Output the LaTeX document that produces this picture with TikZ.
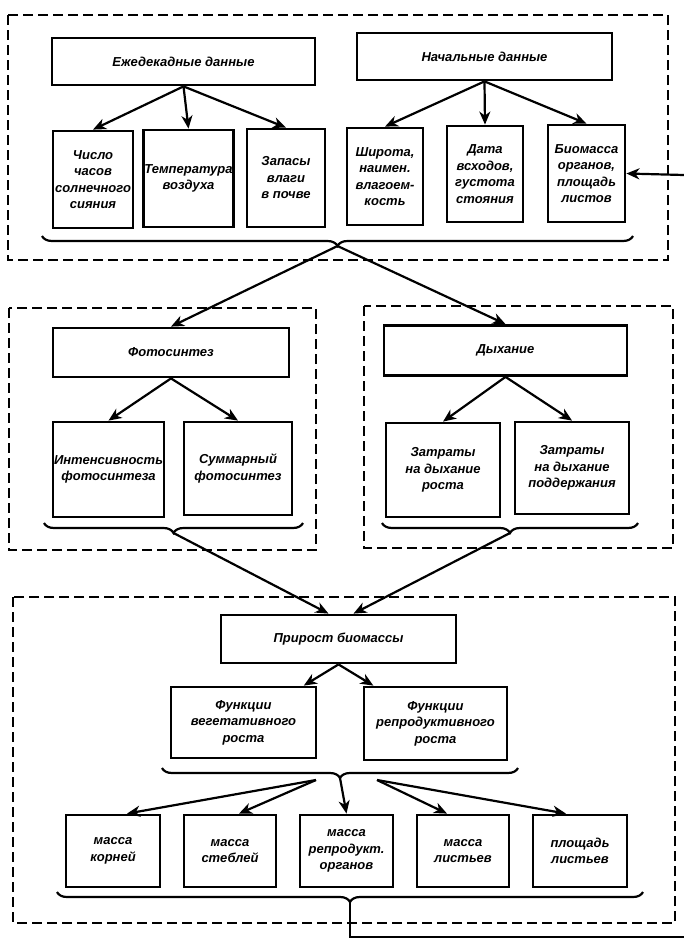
\documentclass[tikz,border=0pt]{standalone}
\usepackage{fontspec}
\setmainfont{Liberation Sans}
\usetikzlibrary{arrows.meta,decorations.pathreplacing}

\tikzset{
	blk/.style={draw, line width=2.8pt, align=center, inner sep=1pt,
		font=\bfseries\itshape\fontsize{13}{16.5}\selectfont},
	grp/.style={draw, line width=2pt, dash pattern=on 10pt off 5pt},
	arr/.style={line width=2.2pt, -{Stealth[length=13pt,width=11pt,inset=4pt]}},
	lnk/.style={line width=2.2pt},
	brc/.style={line width=2.2pt, decorate, decoration={brace, mirror, amplitude=10pt}}
}

\begin{document}
\begin{tikzpicture}[x=1pt,y=-1pt]
	\useasboundingbox (0,0) rectangle (684,940);

	\draw[grp] (8,15) rectangle (668,260);
	\draw[grp] (9,308) rectangle (316,550);
	\draw[grp] (364,306) rectangle (673,548);
	\draw[grp] (13,597) rectangle (675,923);

	\node[blk, minimum width=263pt, minimum height=47pt] (ezhe) at (183.5,61.5) {Ежедекадные данные};
	\node[blk, minimum width=255pt, minimum height=47pt] (nach) at (484.5,56.5) {Начальные данные};
	\node[blk, minimum width=80pt, minimum height=97pt] (chislo) at (93,179.5) {Число\\часов\\солнечного\\сияния};
	\node[blk, minimum width=77pt, minimum height=97pt] (temp) at (188.5,178.5) {Температура\\воздуха};
	\node[blk, minimum width=78pt, minimum height=98pt] (zapas) at (286,178) {Запасы\\влаги\\в почве};
	\node[blk, minimum width=76pt, minimum height=97pt] (shir) at (385,176.5) {Широта,\\наимен.\\влагоем-\\кость};
	\node[blk, minimum width=76pt, minimum height=96pt] (data) at (485,174) {Дата\\всходов,\\густота\\стояния};
	\node[blk, minimum width=77pt, minimum height=97pt] (biom) at (586.5,173.5) {Биомасса\\органов,\\площадь\\листов};

	\draw[arr] (ezhe.south) -- (chislo.north);
	\draw[arr] (ezhe.south) -- (temp.north);
	\draw[arr] (ezhe.south) -- (zapas.north);
	\draw[arr] (nach.south) -- (shir.north);
	\draw[arr] (nach.south) -- (data.north);
	\draw[arr] (nach.south) -- (biom.north);
	\coordinate (inB) at (684,175);
	\draw[arr] (inB) -- (biom.east);

	\draw[brc] (42,236) -- (633,236) coordinate[midway, yshift=-10pt] (topT);

	\node[blk, minimum width=236pt, minimum height=49pt] (foto) at (171,352.5) {Фотосинтез};
	\node[blk, minimum width=243pt, minimum height=50pt] (dykh) at (505.5,350.5) {Дыхание};
	\node[blk, minimum width=111pt, minimum height=95pt] (inten) at (108.5,469.5) {Интенсивность\\фотосинтеза};
	\node[blk, minimum width=108pt, minimum height=93pt] (summ) at (238,468.5) {Суммарный\\фотосинтез};
	\node[blk, minimum width=114pt, minimum height=94pt] (zatrR) at (443,470) {Затраты\\на дыхание\\роста};
	\node[blk, minimum width=114pt, minimum height=92pt] (zatrP) at (572,468) {Затраты\\на дыхание\\поддержания};

	\draw[arr] (topT) -- (foto.north);
	\draw[arr] (topT) -- (dykh.north);
	\draw[arr] (foto.south) -- (inten.north);
	\draw[arr] (foto.south) -- (summ.north);
	\draw[arr] (dykh.south) -- (zatrR.north);
	\draw[arr] (dykh.south) -- (zatrP.north);

	\draw[brc] (44,523) -- (303,523) coordinate[midway, yshift=-10pt] (fotoT);
	\draw[brc] (382,523) -- (638,523) coordinate[midway, yshift=-10pt] (dykhT);

	\node[blk, minimum width=235pt, minimum height=48pt] (prir) at (338.5,639) {Прирост биомассы};
	\node[blk, minimum width=145pt, minimum height=71pt] (veg) at (243.5,722.5) {Функции\\вегетативного\\роста};
	\node[blk, minimum width=143pt, minimum height=73pt] (rep) at (435.5,723.5) {Функции\\репродуктивного\\роста};

	\draw[arr] (fotoT) -- ([xshift=-10pt]prir.north);
	\draw[arr] (dykhT) -- ([xshift=15pt]prir.north);
	\draw[arr] (prir.south) -- (veg);
	\draw[arr] (prir.south) -- (rep);

	\draw[brc] (162,768) -- (518,768) coordinate[midway, yshift=-10pt] (funT);
	\coordinate (funL) at (316,780);
	\coordinate (funR) at (377,780);

	\node[blk, minimum width=94pt, minimum height=72pt] (mKor) at (113,851) {масса\\корней};
	\node[blk, minimum width=92pt, minimum height=72pt] (mSteb) at (230,851) {масса\\стеблей};
	\node[blk, minimum width=93pt, minimum height=72pt] (mRep) at (346.5,851) {масса\\репродукт.\\органов};
	\node[blk, minimum width=92pt, minimum height=72pt] (mList) at (463,851) {масса\\листьев};
	\node[blk, minimum width=94pt, minimum height=72pt] (pList) at (580,851) {площадь\\листьев};

	\draw[arr] (funL) -- ([xshift=14pt]mKor.north);
	\draw[arr] (funL) -- ([xshift=9pt]mSteb.north);
	\draw[arr] (funT) -- (mRep.north);
	\draw[arr] (funR) -- ([xshift=-16pt]mList.north);
	\draw[arr] (funR) -- ([xshift=-14pt]pList.north);

	\draw[brc] (57,892) -- (643,892) coordinate[midway, yshift=-10pt] (botT);
	\coordinate (fbE) at (684,937);
	\draw[lnk] (botT) |- (fbE);

\end{tikzpicture}
\end{document}
